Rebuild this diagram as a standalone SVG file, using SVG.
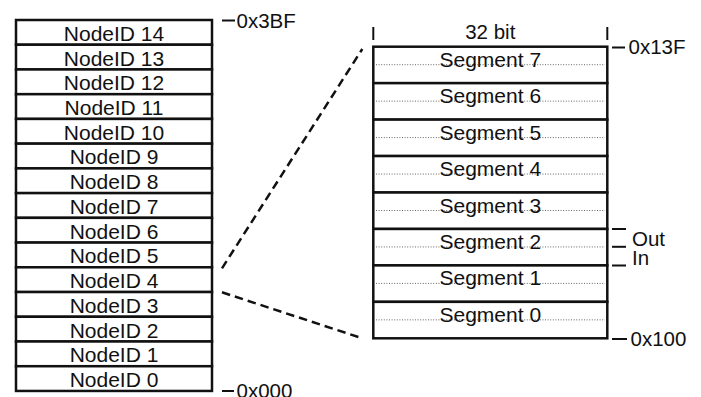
<svg xmlns="http://www.w3.org/2000/svg" width="701" height="397" viewBox="0 0 701 397">
  <style>
    .cell { fill: #fff; stroke: #111; stroke-width: 2.5; }
    .lbl { font-family: "Liberation Sans", Arial, sans-serif; font-size: 20.5px; fill: #111; }
    .big { font-size: 21px; }
    .mid { text-anchor: middle; }
    .tick { stroke: #111; stroke-width: 2; fill: none; }
    .dots { stroke: #666; stroke-width: 1; stroke-dasharray: 1 1.6; fill: none; }
    .dash { stroke: #111; stroke-width: 2.5; stroke-dasharray: 8.5 5; fill: none; }
  </style>
  <rect width="701" height="397" fill="#fff"/>

  <!-- Node ID table (0x000 .. 0x3BF) -->
  <g id="node-table">
    <g id="nodeid-14"><rect class="cell" x="16" y="20" width="196" height="24.73"/><text class="lbl big mid" x="114" y="40.8">NodeID 14</text></g>
    <g id="nodeid-13"><rect class="cell" x="16" y="44.73" width="196" height="24.73"/><text class="lbl big mid" x="114" y="65.5">NodeID 13</text></g>
    <g id="nodeid-12"><rect class="cell" x="16" y="69.46" width="196" height="24.73"/><text class="lbl big mid" x="114" y="90.3">NodeID 12</text></g>
    <g id="nodeid-11"><rect class="cell" x="16" y="94.19" width="196" height="24.73"/><text class="lbl big mid" x="114" y="115">NodeID 11</text></g>
    <g id="nodeid-10"><rect class="cell" x="16" y="118.92" width="196" height="24.73"/><text class="lbl big mid" x="114" y="139.7">NodeID 10</text></g>
    <g id="nodeid-9"><rect class="cell" x="16" y="143.65" width="196" height="24.73"/><text class="lbl big mid" x="114" y="164.4">NodeID 9</text></g>
    <g id="nodeid-8"><rect class="cell" x="16" y="168.38" width="196" height="24.73"/><text class="lbl big mid" x="114" y="189.2">NodeID 8</text></g>
    <g id="nodeid-7"><rect class="cell" x="16" y="193.11" width="196" height="24.73"/><text class="lbl big mid" x="114" y="213.9">NodeID 7</text></g>
    <g id="nodeid-6"><rect class="cell" x="16" y="217.84" width="196" height="24.73"/><text class="lbl big mid" x="114" y="238.6">NodeID 6</text></g>
    <g id="nodeid-5"><rect class="cell" x="16" y="242.57" width="196" height="24.73"/><text class="lbl big mid" x="114" y="263.4">NodeID 5</text></g>
    <g id="nodeid-4"><rect class="cell" x="16" y="267.3" width="196" height="24.73"/><text class="lbl big mid" x="114" y="288.1">NodeID 4</text></g>
    <g id="nodeid-3"><rect class="cell" x="16" y="292.03" width="196" height="24.73"/><text class="lbl big mid" x="114" y="312.8">NodeID 3</text></g>
    <g id="nodeid-2"><rect class="cell" x="16" y="316.76" width="196" height="24.73"/><text class="lbl big mid" x="114" y="337.6">NodeID 2</text></g>
    <g id="nodeid-1"><rect class="cell" x="16" y="341.49" width="196" height="24.73"/><text class="lbl big mid" x="114" y="362.3">NodeID 1</text></g>
    <g id="nodeid-0"><rect class="cell" x="16" y="366.22" width="196" height="24.73"/><text class="lbl big mid" x="114" y="387">NodeID 0</text></g>
  </g>

  <!-- Address marks of the node table -->
  <g id="node-table-addresses">
    <line class="tick" x1="222" y1="20.5" x2="235" y2="20.5"/>
    <text class="lbl" x="236.5" y="27.5">0x3BF</text>
    <line class="tick" x1="222" y1="391" x2="234" y2="391"/>
    <text class="lbl" x="236.5" y="397.5">0x000</text>
  </g>

  <!-- Zoom lines from NodeID 4 to the segment table -->
  <g id="connectors">
    <line class="dash" x1="222" y1="268.3" x2="362.3" y2="49"/>
    <line class="dash" x1="222" y1="292.3" x2="362.3" y2="338.3"/>
  </g>

  <!-- Width marker -->
  <g id="width-marker">
    <line class="tick" x1="373.3" y1="27" x2="373.3" y2="40"/>
    <line class="tick" x1="607.3" y1="27" x2="607.3" y2="40"/>
    <text class="lbl mid" x="490.3" y="39.3">32 bit</text>
  </g>

  <!-- Segment table (0x100 .. 0x13F) -->
  <g id="segment-table">
    <g id="segment-7"><rect class="cell" x="373.3" y="46.7" width="234" height="36.45"/><line class="dots" x1="376" y1="64.7" x2="605" y2="64.7"/><text class="lbl big mid" x="490.3" y="66.7">Segment 7</text></g>
    <g id="segment-6"><rect class="cell" x="373.3" y="83.15" width="234" height="36.45"/><line class="dots" x1="376" y1="101.15" x2="605" y2="101.15"/><text class="lbl big mid" x="490.3" y="103.15">Segment 6</text></g>
    <g id="segment-5"><rect class="cell" x="373.3" y="119.6" width="234" height="36.45"/><line class="dots" x1="376" y1="137.6" x2="605" y2="137.6"/><text class="lbl big mid" x="490.3" y="139.6">Segment 5</text></g>
    <g id="segment-4"><rect class="cell" x="373.3" y="156.05" width="234" height="36.45"/><line class="dots" x1="376" y1="174.05" x2="605" y2="174.05"/><text class="lbl big mid" x="490.3" y="176.05">Segment 4</text></g>
    <g id="segment-3"><rect class="cell" x="373.3" y="192.5" width="234" height="36.45"/><line class="dots" x1="376" y1="210.5" x2="605" y2="210.5"/><text class="lbl big mid" x="490.3" y="212.5">Segment 3</text></g>
    <g id="segment-2"><rect class="cell" x="373.3" y="228.95" width="234" height="36.45"/><line class="dots" x1="376" y1="246.95" x2="605" y2="246.95"/><text class="lbl big mid" x="490.3" y="248.95">Segment 2</text></g>
    <g id="segment-1"><rect class="cell" x="373.3" y="265.4" width="234" height="36.45"/><line class="dots" x1="376" y1="283.4" x2="605" y2="283.4"/><text class="lbl big mid" x="490.3" y="285.4">Segment 1</text></g>
    <g id="segment-0"><rect class="cell" x="373.3" y="301.85" width="234" height="36.45"/><line class="dots" x1="376" y1="319.85" x2="605" y2="319.85"/><text class="lbl big mid" x="490.3" y="321.85">Segment 0</text></g>
  </g>

  <!-- Address and direction marks of the segment table -->
  <g id="segment-table-addresses">
    <line class="tick" x1="612" y1="47.5" x2="625" y2="47.5"/>
    <text class="lbl" x="628.5" y="54">0x13F</text>
    <line class="tick" x1="612" y1="229" x2="626" y2="229"/>
    <line class="tick" x1="612" y1="246.8" x2="626" y2="246.8"/>
    <line class="tick" x1="612" y1="265.5" x2="626" y2="265.5"/>
    <text class="lbl" x="632" y="246">Out</text>
    <text class="lbl" x="632" y="264.5">In</text>
    <line class="tick" x1="612" y1="339" x2="627" y2="339"/>
    <text class="lbl" x="630.5" y="346.3">0x100</text>
  </g>
</svg>
